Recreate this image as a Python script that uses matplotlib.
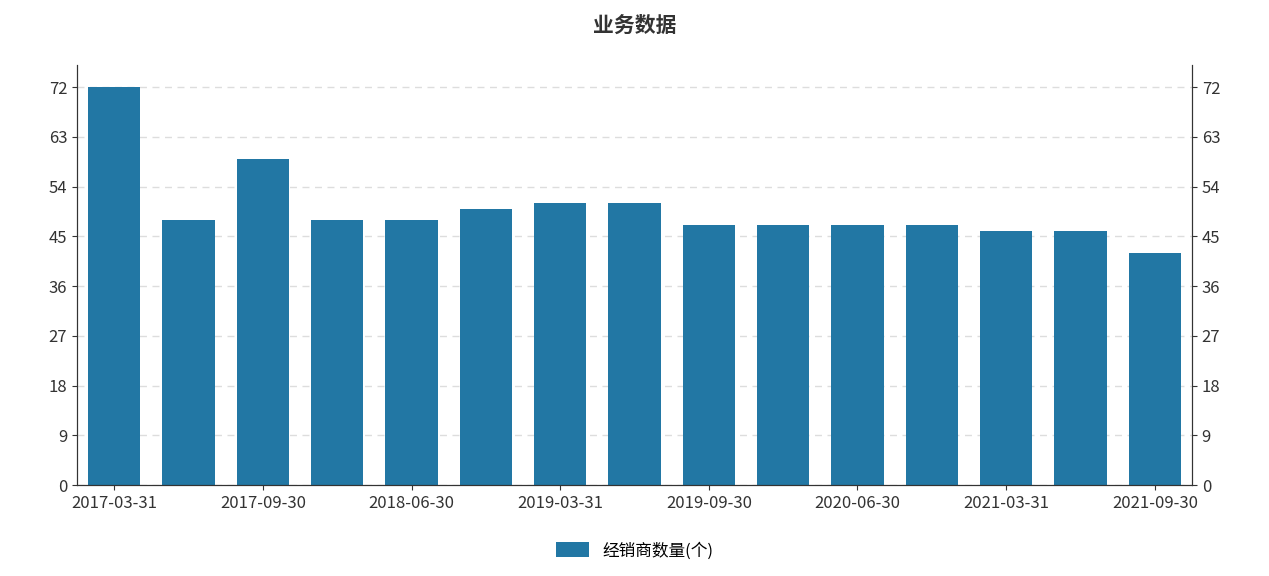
import matplotlib
matplotlib.use("Agg")
import matplotlib.pyplot as plt
import numpy as np

plt.rcParams['font.family'] = ['Noto Sans CJK SC', 'DejaVu Sans']

categories = ["2017-03-31", "2017-06-30", "2017-09-30", "2017-12-31", "2018-06-30",
              "2018-12-31", "2019-03-31", "2019-06-30", "2019-09-30", "2019-12-31",
              "2020-06-30", "2020-12-31", "2021-03-31", "2021-06-30", "2021-09-30"]
values = [72, 48, 59, 48, 48, 50, 51, 51, 47, 47, 47, 47, 46, 46, 42]
yticks = [0, 9, 18, 27, 36, 45, 54, 63, 72]

fig = plt.figure(figsize=(12.69, 5.76), dpi=100)
ax = fig.add_axes([77/1269, 1-485/576, (1192-77)/1269, (485-65)/576])
x = np.arange(len(categories))
ax.bar(x, values, width=0.7, color='#2277a4', label='经销商数量(个)', zorder=2)
ax.set_xlim(-0.5, len(categories)-0.5)
ax.set_ylim(0, 76)
ax.set_yticks(yticks)
ax.grid(axis='y', color='#dddddd', linestyle=(0, (5, 4)), linewidth=1, zorder=0)
ax.set_xticks(x[::2])
ax.set_xticklabels(categories[::2], fontsize=12, color='#333333')
ax.tick_params(axis='y', labelsize=12, colors='#333333', direction='out')
ax.tick_params(axis='x', colors='#333333')
ax2 = ax.twinx()
ax2.set_ylim(0, 76)
ax2.set_yticks(yticks)
ax2.tick_params(axis='y', labelsize=12, colors='#333333')
for a in (ax, ax2):
    a.spines['top'].set_visible(False)
    for s in ('left', 'right', 'bottom'):
        a.spines[s].set_color('#333333')
fig.suptitle('业务数据', y=0.975, fontsize=15, fontweight='bold', color='#333333')
ax.legend(loc='upper center', bbox_to_anchor=(0.5, -0.1), frameon=False, fontsize=12,
          handlelength=2, handleheight=1)
fig.savefig('out.png', dpi=100)
